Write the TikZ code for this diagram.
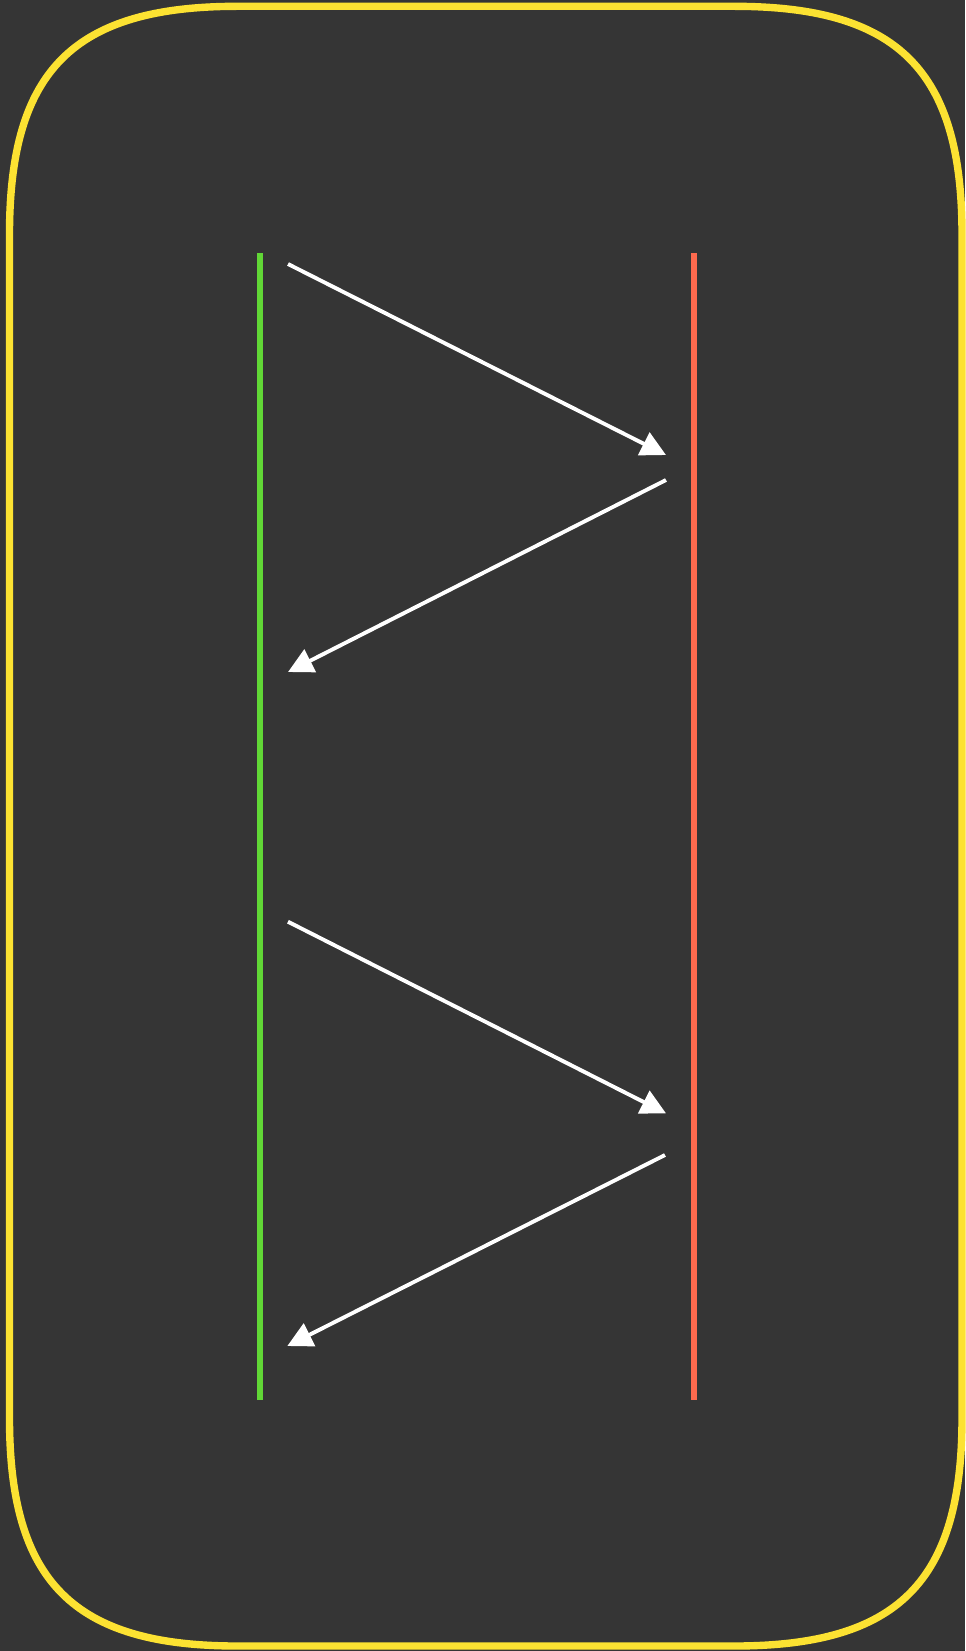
\documentclass[tikz,border=0pt]{standalone}
\usetikzlibrary{arrows.meta}
\definecolor{bgdark}{HTML}{353535}
\definecolor{framey}{HTML}{FCE232}
\definecolor{lifeleft}{HTML}{61D736}
\definecolor{liferight}{HTML}{FE6A4E}
\tikzset{
  msg/.style={white,line width=2.2pt,-{Triangle[length=14.2pt,width=14.2pt]}},
  lifeline/.style={line width=3.1pt}
}
\begin{document}
\begin{tikzpicture}[x=0.02cm,y=-0.02cm]
\useasboundingbox (0,0) rectangle (965,1651);
\fill[bgdark] (0,0) rectangle (965,1651);
% rounded frame
\draw[framey,line width=4.2pt] (9.5,234.3) .. controls (9.5,70.3) and (73.5,6.3) .. (237.5,6.3) -- (734,6.3) .. controls (898,6.3) and (962,70.3) .. (962,234.3) -- (962,1418) .. controls (962,1582) and (898,1646) .. (734,1646) -- (237.5,1646) .. controls (73.5,1646) and (9.5,1582) .. (9.5,1418) -- cycle;
% lifelines
\coordinate (lt) at (260,253);
\coordinate (lb) at (260,1400);
\coordinate (rt) at (694,253);
\coordinate (rb) at (694,1400);
\draw[lifeleft,lifeline] (lt) -- (lb);
\draw[liferight,lifeline] (rt) -- (rb);
% messages
\coordinate (m1s) at (288,264);
\coordinate (m1e) at (666,455);
\coordinate (m2s) at (666,480);
\coordinate (m2e) at (288,672);
\coordinate (m3s) at (288,921.7);
\coordinate (m3e) at (666,1113.3);
\coordinate (m4s) at (665,1155);
\coordinate (m4e) at (287.3,1346);
\draw[msg] (m1s) -- (m1e);
\draw[msg] (m2s) -- (m2e);
\draw[msg] (m3s) -- (m3e);
\draw[msg] (m4s) -- (m4e);
\end{tikzpicture}
\end{document}
